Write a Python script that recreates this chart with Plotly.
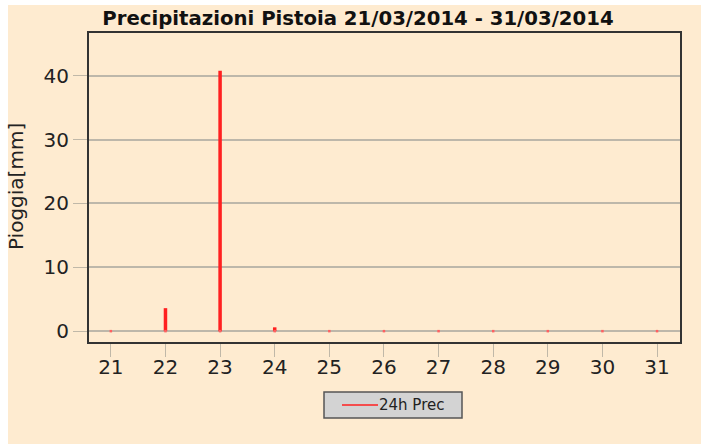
import plotly.graph_objects as go

# Daily rainfall, Pistoia, 21-31 March 2014
days = [21, 22, 23, 24, 25, 26, 27, 28, 29, 30, 31]
rain_mm = [0.0, 3.6, 40.8, 0.6, 0.0, 0.0, 0.0, 0.0, 0.0, 0.0, 0.0]
x_ticks = [21, 22, 23, 24, 25, 26, 27, 28, 29, 30, 31]
y_ticks = [0, 10, 20, 30, 40]
series_name = "24h Prec"

BG = "#FEEBD0"
RED = "#FF2020"
FONT = "DejaVu Sans, Verdana, sans-serif"

# vertical "needle" segments from 0 up to each day's total
xs, ys = [], []
for d, v in zip(days, rain_mm):
    xs += [d, d, None]
    ys += [0, v, None]

fig = go.Figure()
fig.add_trace(go.Scatter(
    x=xs, y=ys, mode="lines", name=series_name, showlegend=False,
    line=dict(color=RED, width=3.5), connectgaps=False,
))
# small base marks for every day
fig.add_trace(go.Scatter(
    x=days, y=[0] * len(days), mode="markers", showlegend=False,
    marker=dict(color="#FF6060", size=2.5, symbol="square"), hoverinfo="skip",
))

L, R, T, B = 89, 21, 33, 102
W, H = 701, 444
pw, ph = W - L - R, H - T - B


def px(x):
    """pixel column -> paper x"""
    return (x - L) / pw


def py(y):
    """pixel row -> paper y"""
    return (T + ph - y) / ph


shapes = [
    # thin white strips along the top and left edges
    dict(type="rect", xref="paper", yref="paper", layer="below",
         x0=px(-5), x1=px(8), y0=py(H + 5), y1=py(-5),
         fillcolor="white", line=dict(width=0)),
    dict(type="rect", xref="paper", yref="paper", layer="below",
         x0=px(-5), x1=px(W + 5), y0=py(5), y1=py(-5),
         fillcolor="white", line=dict(width=0)),
    # legend box with its line sample
    dict(type="rect", xref="paper", yref="paper",
         x0=px(324), x1=px(462), y0=py(418), y1=py(392),
         fillcolor="#D3D3D3", line=dict(color="#555555", width=1.5)),
    dict(type="line", xref="paper", yref="paper",
         x0=px(342), x1=px(378), y0=py(405), y1=py(405),
         line=dict(color=RED, width=1.5)),
]

annotations = [
    dict(text="Pioggia[mm]", xref="paper", yref="paper", x=px(16), y=py(187),
         xanchor="center", yanchor="middle", textangle=-90, showarrow=False,
         font=dict(family=FONT, size=20, color="#222222")),
    dict(text=series_name, xref="paper", yref="paper", x=px(377), y=py(405),
         xanchor="left", yanchor="middle", showarrow=False,
         font=dict(family=FONT, size=15, color="#222222")),
]

fig.update_layout(
    width=W, height=H,
    margin=dict(l=L, r=R, t=T, b=B),
    paper_bgcolor=BG, plot_bgcolor=BG,
    font=dict(family=FONT, size=20, color="#222222"),
    title=dict(
        text="<b>Precipitazioni Pistoia 21/03/2014 - 31/03/2014</b>",
        x=358 / W, xanchor="center", y=1 - 18 / H, yanchor="middle",
        font=dict(family=FONT, size=19.7, color="#111111"),
    ),
    showlegend=False,
    xaxis=dict(
        range=[20.6, 31.42], tickvals=x_ticks, ticktext=[str(t) for t in x_ticks],
        showgrid=False, zeroline=False,
        ticks="outside", ticklen=13, tickcolor="#C0B8A8", tickwidth=1,
        showline=True, linecolor="#333333", linewidth=2, mirror=True,
        tickfont=dict(family=FONT, size=20, color="#222222"),
        ticklabelstandoff=-7,
    ),
    yaxis=dict(
        range=[-1.7, 46.7], tickvals=y_ticks,
        showgrid=True, gridcolor="#BDB7AA", gridwidth=2, zeroline=False,
        ticks="outside", ticklen=14, tickcolor="#C0B8A8", tickwidth=1,
        showline=True, linecolor="#333333", linewidth=2, mirror=True,
        tickfont=dict(family=FONT, size=20, color="#222222"),
    ),
    shapes=shapes,
    annotations=annotations,
)

fig.write_html("out.html")
